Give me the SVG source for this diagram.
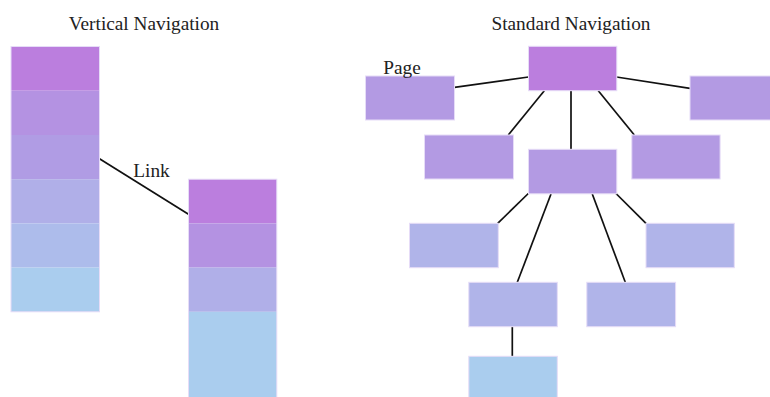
<svg xmlns="http://www.w3.org/2000/svg" width="770" height="397" viewBox="0 0 770 397">
  <style>
    text { font-family: "Liberation Serif", "Times New Roman", serif; font-size: 19.3px; fill: #222; }
    .box { stroke: #e6dcf7; stroke-width: 1; }
    .cell { stroke: none; }
    .outline { fill: none; stroke: #e6dcf7; stroke-width: 1; }
    .c0 { fill: #bb7ede; }
    .c1 { fill: #b492e2; }
    .c2 { fill: #b09ce4; }
    .c3 { fill: #b0afe8; }
    .c4 { fill: #adbceb; }
    .c5 { fill: #aacdee; }
    .cm { fill: #b39ae3; }
    .cl { fill: #b0b4e9; }
    .edge { stroke: #111; stroke-width: 1.7; fill: none; }
  </style>
  <rect width="770" height="397" fill="#fff"/>

  <!-- titles -->
  <text x="144" y="30" text-anchor="middle">Vertical Navigation</text>
  <text x="571" y="30" text-anchor="middle">Standard Navigation</text>

  <!-- connectors -->
  <g id="connectors">
    <line class="edge" x1="99.5" y1="158.7" x2="188.5" y2="214.3"/>
    <line class="edge" x1="528.5" y1="77" x2="454.5" y2="87.3"/>
    <line class="edge" x1="616.5" y1="77" x2="690" y2="88.3"/>
    <line class="edge" x1="544.3" y1="90.7" x2="508.3" y2="135"/>
    <line class="edge" x1="571" y1="90.7" x2="571" y2="149.3"/>
    <line class="edge" x1="598.3" y1="90.7" x2="634.3" y2="135"/>
    <line class="edge" x1="528.3" y1="193.5" x2="497.7" y2="223.3"/>
    <line class="edge" x1="551" y1="194" x2="517.3" y2="282.3"/>
    <line class="edge" x1="592.3" y1="194" x2="625.3" y2="282.3"/>
    <line class="edge" x1="616" y1="193.5" x2="646" y2="223.3"/>
    <line class="edge" x1="512.3" y1="326.7" x2="512.3" y2="356.3"/>
  </g>

  <!-- vertical navigation: main column -->
  <g id="vnav-main">
    <rect class="cell c0" x="11" y="46.5" width="88.5" height="44.2"/>
    <rect class="cell c1" x="11" y="90.7" width="88.5" height="44.3"/>
    <rect class="cell c2" x="11" y="135" width="88.5" height="44.2"/>
    <rect class="cell c3" x="11" y="179.2" width="88.5" height="44.2"/>
    <rect class="cell c4" x="11" y="223.4" width="88.5" height="44.2"/>
    <rect class="cell c5" x="11" y="267.6" width="88.5" height="44.2"/>
    <rect class="outline" x="11" y="46.5" width="88.5" height="265.3"/>
  </g>

  <!-- vertical navigation: linked column -->
  <g id="vnav-sub">
    <rect class="cell c0" x="188.5" y="179.2" width="88.3" height="44.2"/>
    <rect class="cell c1" x="188.5" y="223.4" width="88.3" height="44.2"/>
    <rect class="cell c3" x="188.5" y="267.6" width="88.3" height="44.2"/>
    <rect class="cell c5" x="188.5" y="311.8" width="88.3" height="90"/>
    <rect class="outline" x="188.5" y="179.2" width="88.3" height="222"/>
  </g>
  <text x="133.3" y="176.7">Link</text>

  <!-- standard navigation tree -->
  <g id="home"><rect class="box c0" x="528.5" y="46.3" width="88.3" height="44.4"/></g>
  <g id="page-a"><rect class="box cm" x="365.5" y="76" width="89" height="44"/></g>
  <g id="page-b"><rect class="box cm" x="690" y="76" width="89" height="44"/></g>
  <g id="page-c"><rect class="box cm" x="424.5" y="135" width="89" height="44"/></g>
  <g id="page-d"><rect class="box cm" x="528.5" y="149.3" width="88.3" height="44.5"/></g>
  <g id="page-e"><rect class="box cm" x="631.8" y="135" width="88.3" height="44"/></g>
  <g id="page-f"><rect class="box cl" x="409.5" y="223.3" width="88.8" height="44.4"/></g>
  <g id="page-g"><rect class="box cl" x="646" y="223.3" width="88.3" height="44.4"/></g>
  <g id="page-h"><rect class="box cl" x="468.8" y="282.3" width="88.5" height="44.4"/></g>
  <g id="page-i"><rect class="box cl" x="586.8" y="282.3" width="88.8" height="44.4"/></g>
  <g id="page-j"><rect class="box c5" x="468.8" y="356.3" width="88.5" height="50"/></g>
  <text x="383.3" y="74.3">Page</text>
</svg>
